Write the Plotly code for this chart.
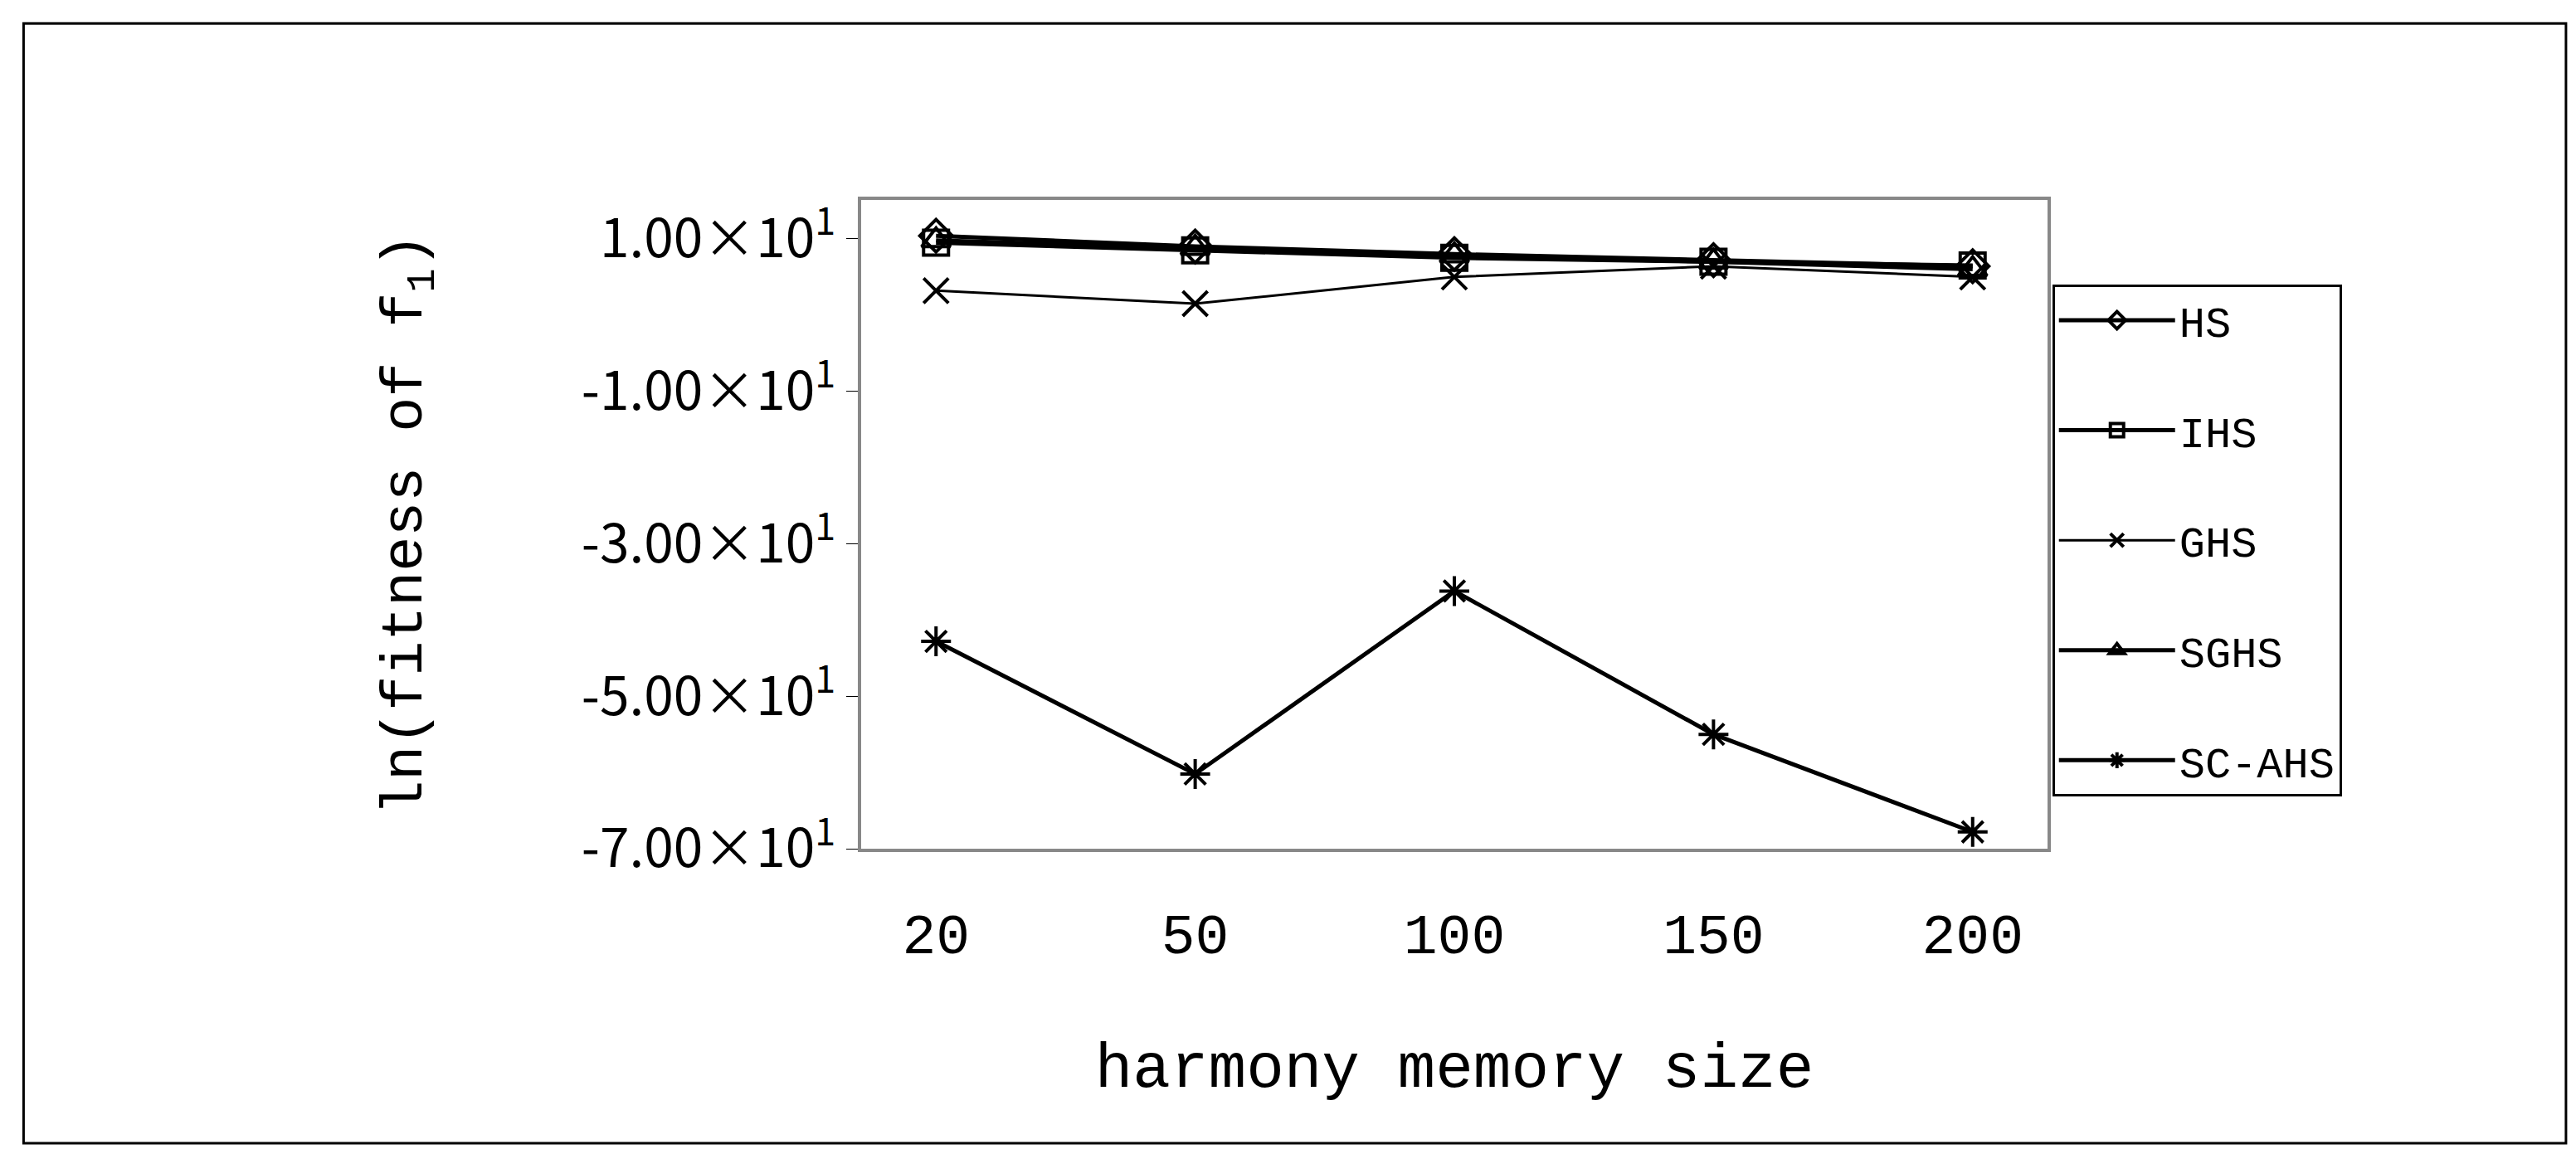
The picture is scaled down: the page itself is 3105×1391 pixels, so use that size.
import plotly.graph_objects as go

categories = ["20", "50", "100", "150", "200"]
hs = [10.4, 9.0, 8.0, 7.2, 6.4]
ihs = [9.5, 8.5, 7.5, 7.0, 6.5]
ghs = [3.2, 1.5, 5.0, 6.4, 5.0]
sghs = [9.8, 8.8, 7.8, 7.0, 6.0]
scahs = [-42.8, -60.2, -36.2, -55.0, -67.8]
ytick_vals = [10, -10, -30, -50, -70]
ytick_text = ["1.00×10<sup>1</sup>", "-1.00×10<sup>1</sup>", "-3.00×10<sup>1</sup>",
              "-5.00×10<sup>1</sup>", "-7.00×10<sup>1</sup>"]

series = [("HS", hs, "diamond-open"), ("IHS", ihs, "square-open"),
          ("GHS", ghs, "x-thin-open"), ("SGHS", sghs, "triangle-up-open"),
          ("SC-AHS", scahs, "asterisk-open")]

fig = go.Figure()
for i, (name, vals, sym) in enumerate(series):
    fig.add_trace(go.Scatter(x=categories, y=vals, name=name, mode="lines+markers",
                             legendgroup=str(i),
                             line=dict(color="black", width=5 if name != "GHS" else 3),
                             marker=dict(symbol=sym, size=30, color="black",
                                         line=dict(color="black", width=4))))

fig.update_layout(
    width=3105, height=1391, plot_bgcolor="white", paper_bgcolor="white",
    margin=dict(l=1030, r=645, t=233, b=376),
    font=dict(family="Liberation Mono", color="black"),
    legend=dict(x=1.004, y=0.87, xanchor="left", yanchor="top",
                bordercolor="black", borderwidth=3, font=dict(size=52),
                tracegroupgap=62, itemwidth=140),
    shapes=[dict(type="rect", xref="paper", yref="paper", x0=-0.706, x1=1.437,
                 y0=-0.454, y1=1.272, line=dict(color="black", width=3))],
)
fig.update_xaxes(type="category", showline=True, mirror=True, linecolor="#888888",
                 linewidth=4, ticks="", tickfont=dict(size=68, family="Liberation Mono"),
                 ticklabelstandoff=40,
                 title=dict(text="harmony memory size", font=dict(size=76), standoff=90))
fig.update_yaxes(range=[-70, 15.1], tickvals=ytick_vals, ticktext=ytick_text,
                 showgrid=False, zeroline=False, showline=True, mirror=True,
                 linecolor="#888888", linewidth=4, ticks="outside", ticklen=14,
                 tickcolor="black", tickfont=dict(size=64, family="Noto Sans CJK SC"),
                 title=dict(text="ln(fitness of f<sub>1</sub>)", font=dict(size=70), standoff=170))
fig.write_html("out.html")
